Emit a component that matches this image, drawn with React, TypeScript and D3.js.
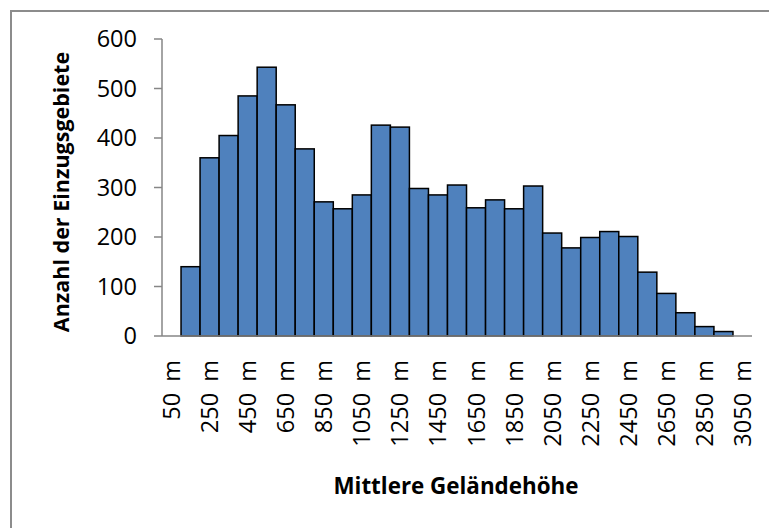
import React from 'react';
import * as d3 from 'd3';

// mean elevation classes (100 m bins), labelled by their centre
const elevations = d3.range(50, 3051, 100);
const categories = elevations.map(v => `${v} m`);
// number of catchments per class
const counts = [0, 140, 360, 405, 485, 543, 467, 378, 271, 257, 285, 426, 422, 298, 285, 305, 259, 275, 257, 303, 208, 178, 199, 211, 201, 129, 86, 47, 19, 9, 0];
const yTicks = [0, 100, 200, 300, 400, 500, 600];

const W = 769;
const H = 528;
const font = '"Open Sans", "Noto Sans", sans-serif';

export default function App() {
    const x = d3.scaleBand<string>().domain(categories).range([162, 752]).padding(0);
    const y = d3.scaleLinear().domain([0, 600]).range([336, 39]);

    return (
        <div style={{ position: 'absolute', left: 0, top: 0 }}>
            <svg width={W} height={H} style={{ display: 'block', background: '#fff' }}>
                {/* chart frame */}
                <rect x={11} y={11} width={W + 10} height={H + 10} fill="#fff" stroke="#8c8c8c" strokeWidth={2} />

                {/* bars */}
                {categories.map((c, i) => counts[i] > 0 && (
                    <rect
                        key={c}
                        x={x(c)}
                        y={y(counts[i])}
                        width={x.bandwidth()}
                        height={y(0) - y(counts[i])}
                        fill="#4f81bd"
                        stroke="#000"
                        strokeWidth={1.5}
                    />
                ))}

                {/* y axis */}
                <line x1={162} x2={162} y1={y(600)} y2={y(0)} stroke="#868686" strokeWidth={1.5} />
                {yTicks.map(t => (
                    <g key={t}>
                        <line x1={154} x2={162} y1={y(t)} y2={y(t)} stroke="#868686" strokeWidth={1.5} />
                        <text x={137} y={y(t)} dy="0.36em" textAnchor="end" fontFamily={font} fontSize={23.5} fill="#000">{t}</text>
                    </g>
                ))}

                {/* x axis, every second class labelled */}
                <line x1={162} x2={752} y1={y(0)} y2={y(0)} stroke="#868686" strokeWidth={1.5} />
                {categories.map((c, i) => i % 2 === 0 && (
                    <text
                        key={c}
                        transform={`translate(${(x(c) ?? 0) + x.bandwidth() / 2}, 360) rotate(-90)`}
                        dy="0.36em"
                        textAnchor="end"
                        fontFamily={font}
                        fontSize={23.5}
                        fill="#000"
                    >{elevations[i]}<tspan dx={5}> m</tspan></text>
                ))}

                {/* axis titles */}
                <text
                    transform="translate(61, 192) rotate(-90)"
                    dy="0.35em"
                    textAnchor="middle"
                    fontFamily={font}
                    fontSize={21.5}
                    fontWeight="bold"
                >Anzahl der Einzugsgebiete</text>
                <text x={456} y={494} textAnchor="middle" fontFamily={font} fontSize={22.4} fontWeight="bold">Mittlere Geländehöhe</text>
            </svg>
        </div>
    );
}
